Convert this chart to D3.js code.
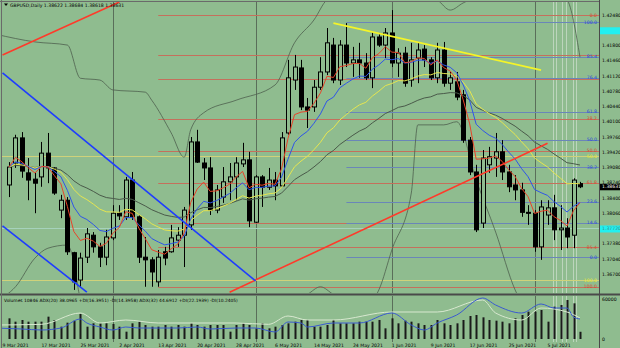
<!DOCTYPE html>
<html>
<head>
<meta charset="utf-8">
<script src="https://cdn.jsdelivr.net/npm/d3@7"></script>
<style>
  html, body { margin: 0; padding: 0; background: #8fbc8f; }
  svg { display: block; }
</style>
</head>
<body>
<div id="chart"></div>
<script>
// GBPUSD daily bars, bar 0 = 10 Mar 2021
const opens = [1.3869,1.3918,1.3974,1.3896,1.3882,1.3887,1.3940,1.3907,1.3813,1.3835,
  1.3718,1.3657,1.3708,1.3757,1.3731,1.3708,1.3751,1.3806,1.3798,1.3880,
  1.3798,1.3708,1.3702,1.3653,1.3720,1.3720,1.3746,1.3757,1.3780,1.3965,
  1.3918,1.3907,1.3813,1.3842,1.3876,1.3887,1.3916,1.3925,1.3786,1.3887,
  1.3864,1.3880,1.3867,1.3985,1.4103,1.4130,1.4043,1.4043,1.4087,1.4121,
  1.4181,1.4103,1.4181,1.4141,1.4148,1.4141,1.4108,1.4199,1.4181,1.4208,
  1.4141,1.4163,1.4103,1.4152,1.4172,1.4148,1.4108,1.4170,1.4096,1.4099,
  1.4070,1.3969,1.3898,1.3784,1.3914,1.3929,1.3943,1.3898,1.3869,1.3858,
  1.3808,1.3806,1.3731,1.3802,1.3818,1.3769,1.3773,1.3757,1.3872];
const highs = [1.3920,1.3981,1.3987,1.3929,1.3898,1.3965,1.3985,1.3909,1.3847,1.3842,
  1.3720,1.3718,1.3773,1.3764,1.3740,1.3769,1.3824,1.3824,1.3887,1.3898,
  1.3802,1.3753,1.3708,1.3724,1.3731,1.3780,1.3775,1.3820,1.3976,1.3992,
  1.3929,1.3931,1.3869,1.3909,1.3918,1.3931,1.3963,1.3943,1.3891,1.3891,
  1.3907,1.3898,1.3987,1.4148,1.4159,1.4148,1.4063,1.4103,1.4154,1.4219,
  1.4197,1.4192,1.4230,1.4177,1.4186,1.4163,1.4210,1.4208,1.4219,1.4259,
  1.4174,1.4177,1.4186,1.4186,1.4181,1.4154,1.4186,1.4188,1.4121,1.4121,
  1.4081,1.3976,1.3914,1.3947,1.3954,1.3985,1.3969,1.3914,1.3891,1.3874,
  1.3824,1.3813,1.3835,1.3835,1.3847,1.3824,1.3795,1.3884,1.3876];
const lows = [1.3842,1.3907,1.3885,1.3835,1.3806,1.3865,1.3873,1.3847,1.3795,1.3713,
  1.3635,1.3642,1.3695,1.3718,1.3686,1.3690,1.3746,1.3791,1.3791,1.3791,
  1.3695,1.3642,1.3642,1.3642,1.3690,1.3718,1.3731,1.3686,1.3769,1.3918,
  1.3880,1.3802,1.3806,1.3829,1.3835,1.3835,1.3909,1.3775,1.3784,1.3820,
  1.3858,1.3835,1.3865,1.3981,1.4081,1.4036,1.3996,1.4032,1.4081,1.4114,
  1.4096,1.4092,1.4132,1.4110,1.4108,1.4103,1.4085,1.4177,1.4152,1.4132,
  1.4110,1.4088,1.4088,1.4096,1.4132,1.4103,1.4096,1.4088,1.4081,1.4058,
  1.3963,1.3891,1.3764,1.3773,1.3896,1.3887,1.3880,1.3853,1.3835,1.3798,
  1.3780,1.3720,1.3702,1.3780,1.3746,1.3724,1.3728,1.3728,1.3862];
const closes = [1.3909,1.3974,1.3900,1.3880,1.3873,1.3940,1.3907,1.3851,1.3835,1.3720,
  1.3653,1.3706,1.3760,1.3731,1.3708,1.3753,1.3806,1.3800,1.3880,1.3798,
  1.3708,1.3702,1.3675,1.3708,1.3706,1.3751,1.3757,1.3813,1.3965,1.3920,
  1.3907,1.3813,1.3858,1.3876,1.3887,1.3918,1.3925,1.3789,1.3887,1.3864,
  1.3880,1.3867,1.3974,1.4108,1.4132,1.4043,1.4036,1.4087,1.4121,1.4186,
  1.4103,1.4181,1.4141,1.4148,1.4141,1.4108,1.4199,1.4181,1.4208,1.4141,
  1.4163,1.4096,1.4148,1.4170,1.4148,1.4108,1.4170,1.4096,1.4108,1.4065,
  1.3969,1.3898,1.3769,1.3929,1.3932,1.3943,1.3898,1.3865,1.3858,1.3808,
  1.3806,1.3731,1.3820,1.3818,1.3769,1.3773,1.3753,1.3880,1.3865];
const volumes = [31000,26000,28500,26000,26000,26000,33500,28500,18500,24500,
  27500,37500,18500,23500,23500,23500,22500,18500,11000,23500,
  26000,21000,18500,18500,21000,18500,21000,18500,23500,21000,
  18500,21000,21000,21000,11000,21000,23500,21000,16000,23500,
  16000,18500,21000,23500,26000,28500,28500,18500,18500,21000,
  28500,23500,23500,23500,26000,26000,26000,28500,16000,31000,
  23500,27500,26000,23500,21000,21000,28500,23500,21000,23500,
  28500,34500,36000,32500,28500,27500,26000,23500,31000,36000,
  41000,41000,43500,26000,48500,51000,58500,53500,10846];

// date ticks and month separators (bar index)
const tickBars = [-1, 5, 11, 17, 23, 29, 35, 41, 47, 53, 59, 65, 71, 77, 83];
const tickLabels = ["9 Mar 2021","17 Mar 2021","25 Mar 2021","2 Apr 2021","13 Apr 2021","20 Apr 2021",
  "28 Apr 2021","6 May 2021","14 May 2021","24 May 2021","1 Jun 2021","9 Jun 2021","17 Jun 2021",
  "25 Jun 2021","5 Jul 2021"];
const monthBars = [16, 38, 59, 81];

// price scale labels
const priceTicks = [1.42480,1.42140,1.41800,1.41460,1.41120,1.40780,1.40440,1.40100,1.39760,
  1.39420,1.39080,1.38740,1.38400,1.38060,1.37720,1.37380,1.37040,1.36700];
// horizontal alert lines (cyan labels on the price scale)
const alertLevels = [1.42140, 1.37720];

// fibonacci objects
const fibLevels = [0, 14.6, 23.6, 38.2, 50, 61.8, 76.4, 85.4, 100];
const redFib = { p0: 1.4248, p100: 1.3642, from: 23 };
const blueFib = { p0: 1.3708, p100: 1.4232, from: 52 };
const yellowLevels = [50, 100];
const yellowFib = { p0: 1.4210, p100: 1.3657, from: -2 };

// trend lines [bar, price]
const redLineTop = [[-1, 1.4159], [17, 1.4277]];
const redLineLow = [[34, 1.3630], [83, 1.3962]];
const blueLineUp = [[-1, 1.4119], [38, 1.3655]];
const blueLineLow = [[-1, 1.3778], [12, 1.3630]];
const yellowLine = [[50, 1.4230], [82, 1.4125]];

// bollinger bands [bar, price]
const bbUpper = [[-2,1.4205],[4,1.4188],[9,1.4181],[11,1.4107],[14,1.4103],[16,1.4081],[21,1.4076],
  [22,1.4058],[25,1.3985],[27,1.3931],[28,1.3992],[30,1.4030],[35,1.4058],[41,1.4092],[44,1.4186],
  [47,1.4237],[49,1.4282],[52,1.4300],[60,1.4310],[66,1.4282],[68,1.4259],[70,1.4275],[75,1.4300],
  [84,1.4300],[86,1.4282],[88,1.4154]];
const bbLower = [[-2,1.3610],[1,1.3642],[4,1.3706],[6,1.3728],[9,1.3735],[10,1.3698],[11,1.3620],
  [20,1.3580],[40,1.3580],[46,1.3625],[48,1.3642],[50,1.3625],[55,1.3600],[57,1.3635],[59,1.3724],
  [62,1.3851],[63,1.4003],[67,1.4003],[69,1.4010],[72,1.3880],[75,1.3764],[78,1.3635],[82,1.3560]];

// sub window lines [bar, value]
const adxBlue = [[-2,16.5],[2,15],[5,13.5],[8,16.5],[11,30],[12,24],[14,18],[16,13.5],[18,18],[20,16.5],
  [23,16.5],[26,16.5],[29,18],[31,15],[35,16.5],[38,16.5],[41,10.5],[43,25.5],[45,24],[46,18],[50,24],
  [54,24],[59,39],[62,21],[64,13.5],[66,24],[69,36],[73,61.5],[75,51],[79,39],[82,52.5],[84,46.5],
  [86,46.5],[87,33],[88,30]];
const adxWhite = [[-2,21],[5,22],[11,39],[14,24],[18,28.5],[23,24],[29,24],[35,24],[40,22],[43,34.5],
  [46,28.5],[50,28.5],[59,40.5],[66,40.5],[73,58.5],[75,39],[79,28.5],[82,46.5],[86,40.5],[88,31.5]];

const titleText = "GBPUSD,Daily  1.38622 1.38684 1.38618 1.38631";
const subTitle = "Volumes 10846  ADX(20) 38.0965 +DI(16.3951) -DI(14.3958)  ADX(32) 44.6912 +DI(22.1939) -DI(10.2405)";

const W = 620, H = 348;
const svg = d3.select('#chart').append('svg')
    .attr('width', W).attr('height', H)
    .style('font-family', '"DejaVu Sans", sans-serif');

svg.append('rect').attr('width', W).attr('height', H).attr('fill', '#8fbc8f');

const x = d3.scaleLinear().domain([0, 88]).range([9, 580]);
const y = d3.scaleLinear().domain([1.363034, 1.427035]).range([292, 5]);
const vy = d3.scaleLinear().domain([0, 60000]).range([339, 299]);

const defs = svg.append('defs');
defs.append('clipPath').attr('id', 'main').append('rect')
    .attr('x', 2).attr('y', 2).attr('width', 597).attr('height', 291);
defs.append('clipPath').attr('id', 'sub').append('rect')
    .attr('x', 2).attr('y', 296).attr('width', 597).attr('height', 46);

const main = svg.append('g').attr('clip-path', 'url(#main)');
const sub = svg.append('g').attr('clip-path', 'url(#sub)');

const bars = d3.range(closes.length);
const px = i => Math.round(x(i)) + 0.5;

// month separators and light vertical lines
for (const g of [main, sub]) {
  g.selectAll(null).data(monthBars).join('line')
      .attr('x1', d => px(d)).attr('x2', d => px(d))
      .attr('y1', 0).attr('y2', H)
      .attr('stroke', '#5a6e5a').attr('stroke-width', 1);
  g.selectAll(null).data([83.8, 84.3, 85.3, 85.8, 86.9, 87.4]).join('line')
      .attr('x1', d => px(d)).attr('x2', d => px(d))
      .attr('y1', 0).attr('y2', H)
      .attr('stroke', '#c8dcc8').attr('stroke-width', 0.8);
}

// alert line drawn faint across the chart
main.selectAll(null).data(alertLevels.slice(1)).join('line')
    .attr('x1', 0).attr('x2', 599)
    .attr('y1', d => Math.round(y(d)) + 0.5).attr('y2', d => Math.round(y(d)) + 0.5)
    .attr('stroke', '#a6d2bc').attr('stroke-width', 1);

// fibonacci levels
function drawFib(fib, levels, color) {
  const lv = levels.map(l => ({ l, p: fib.p0 + (fib.p100 - fib.p0) * l / 100 }));
  main.append('g').selectAll('line').data(lv).join('line')
      .attr('x1', x(fib.from)).attr('x2', 599)
      .attr('y1', d => Math.round(y(d.p)) + 0.5).attr('y2', d => Math.round(y(d.p)) + 0.5)
      .attr('stroke', color).attr('stroke-width', 1);
  return lv;
}
const yl = drawFib(yellowFib, yellowLevels, '#cfd27a');
const rl = drawFib(redFib, fibLevels, '#c4705c');
const bl = drawFib(blueFib, fibLevels, '#6a86b8');

function fibLabels(lv, color, skip) {
  main.append('g').selectAll('text').data(lv.filter(d => !skip || !skip.some(s => Math.abs(y(s.p) - y(d.p)) < 5))).join('text')
      .attr('x', 597).attr('y', d => y(d.p) + 1.5)
      .attr('text-anchor', 'end').attr('font-size', 4.6)
      .attr('fill', color)
      .text(d => d.l.toFixed(1));
}
fibLabels(rl, '#d84a30', bl);
fibLabels(yl, '#e8e830', bl.concat(rl));
fibLabels(bl, '#2a4ad8');

// bollinger bands
const bandLine = d3.line().x(d => x(d[0])).y(d => y(d[1])).curve(d3.curveMonotoneX);
main.append('path').attr('d', bandLine(bbUpper)).attr('fill', 'none').attr('stroke', '#4e604e').attr('stroke-width', 0.8);
main.append('path').attr('d', bandLine(bbLower)).attr('fill', 'none').attr('stroke', '#4e604e').attr('stroke-width', 0.8);

// moving averages from closes
function ema(vals, n) {
  const k = 2 / (n + 1);
  let e = vals[0];
  return vals.map((v, i) => (i === 0 ? e : (e = e + k * (v - e))));
}
const maLine = d3.line().x((d, i) => x(i)).y(d => y(d));
const mas = [
  { n: 34, color: '#4a5a4a' },
  { n: 20, color: '#e6e650' },
  { n: 10, color: '#2f55e8' },
  { n: 5, color: '#e8442a' }
];

// candles
const cg = main.append('g');
cg.selectAll('line').data(bars).join('line')
    .attr('x1', px).attr('x2', px)
    .attr('y1', i => y(highs[i])).attr('y2', i => y(lows[i]))
    .attr('stroke', '#000').attr('stroke-width', 1);
cg.selectAll('rect').data(bars).join('rect')
    .attr('x', i => px(i) - 2).attr('width', 4)
    .attr('y', i => y(Math.max(opens[i], closes[i])))
    .attr('height', i => Math.max(1, Math.abs(y(opens[i]) - y(closes[i]))))
    .attr('fill', i => closes[i] >= opens[i] ? '#8fbc8f' : '#000')
    .attr('stroke', '#000').attr('stroke-width', 1);

for (const m of mas) {
  main.append('path').attr('d', maLine(ema(closes, m.n)))
      .attr('fill', 'none').attr('stroke', m.color).attr('stroke-width', 1);
}

// trend lines
const tl = d3.line().x(d => x(d[0])).y(d => y(d[1]));
main.append('path').attr('d', tl(redLineTop)).attr('stroke', '#ff3a2a').attr('stroke-width', 1.6).attr('fill', 'none');
main.append('path').attr('d', tl(redLineLow)).attr('stroke', '#ff3a2a').attr('stroke-width', 1.6).attr('fill', 'none');
main.append('path').attr('d', tl(blueLineUp)).attr('stroke', '#1e3cff').attr('stroke-width', 1.6).attr('fill', 'none');
main.append('path').attr('d', tl(blueLineLow)).attr('stroke', '#1e3cff').attr('stroke-width', 1.6).attr('fill', 'none');
main.append('path').attr('d', tl(yellowLine)).attr('stroke', '#f4f428').attr('stroke-width', 1.8).attr('fill', 'none');

// volume window
sub.selectAll('rect.v').data(bars).join('rect').attr('class', 'v')
    .attr('x', i => px(i) - 1).attr('width', 2)
    .attr('y', i => vy(volumes[i])).attr('height', i => vy(0) - vy(volumes[i]))
    .attr('fill', '#1a1a1a');
const ay = d3.scaleLinear().domain([0, 60]).range([339, 299]);
const adxLine = d3.line().x(d => x(d[0])).y(d => ay(d[1])).curve(d3.curveMonotoneX);
sub.append('path').attr('d', adxLine(adxWhite)).attr('fill', 'none').attr('stroke', '#d8e8d0').attr('stroke-width', 1);
sub.append('path').attr('d', adxLine(adxBlue)).attr('fill', 'none').attr('stroke', '#3a5ad0').attr('stroke-width', 1);

// frame
svg.append('line').attr('x1', 0).attr('x2', W).attr('y1', 294.5).attr('y2', 294.5).attr('stroke', '#4a4a4a').attr('stroke-width', 2);
svg.append('line').attr('x1', 1.5).attr('x2', 1.5).attr('y1', 0).attr('y2', H).attr('stroke', '#6a6a6a');
svg.append('line').attr('x1', 0).attr('x2', 599).attr('y1', 1.5).attr('y2', 1.5).attr('stroke', '#6a6a6a');
svg.append('line').attr('x1', 599.5).attr('x2', 599.5).attr('y1', 0).attr('y2', H).attr('stroke', '#4a4a4a');

// price axis labels
svg.append('g').selectAll('text').data(priceTicks).join('text')
    .attr('x', 602).attr('y', d => y(d) + 1.6)
    .attr('font-size', 4.6).attr('fill', '#000')
    .text(d => d.toFixed(5));
svg.append('g').selectAll('rect').data(alertLevels).join('rect')
    .attr('x', 600).attr('y', d => y(d) - 3).attr('width', 20).attr('height', 7).attr('fill', '#22f0f0');
svg.append('text').attr('x', 602).attr('y', y(alertLevels[1]) + 1.6).attr('font-size', 4.6).attr('fill', '#3c8c8c').text(alertLevels[1].toFixed(5));
svg.append('rect').attr('x', 600).attr('y', y(closes[88]) - 3).attr('width', 20).attr('height', 6.5).attr('fill', '#000');
svg.append('text').attr('x', 602).attr('y', y(closes[88]) + 1.6).attr('font-size', 4.6).attr('fill', '#fff').text('1.38631');

// volume axis labels
svg.append('text').attr('x', 602).attr('y', vy(60000) + 1.6).attr('font-size', 4.6).text('60000');
svg.append('text').attr('x', 602).attr('y', vy(0) + 1.6).attr('font-size', 4.6).text('0');

// date labels
svg.append('g').selectAll('text').data(tickBars).join('text')
    .attr('x', d => x(d)).attr('y', 346.5)
    .attr('font-size', 4.6).attr('fill', '#000')
    .text((d, i) => tickLabels[i]);

// titles
svg.append('path').attr('d', 'M4,3.5 L8,3.5 L6,6 Z').attr('fill', '#000');
svg.append('text').attr('x', 10).attr('y', 6.5).attr('font-size', 4.6).text(titleText);
svg.append('text').attr('x', 4).attr('y', 301.5).attr('font-size', 4.4).text(subTitle);
</script>
</body>
</html>
